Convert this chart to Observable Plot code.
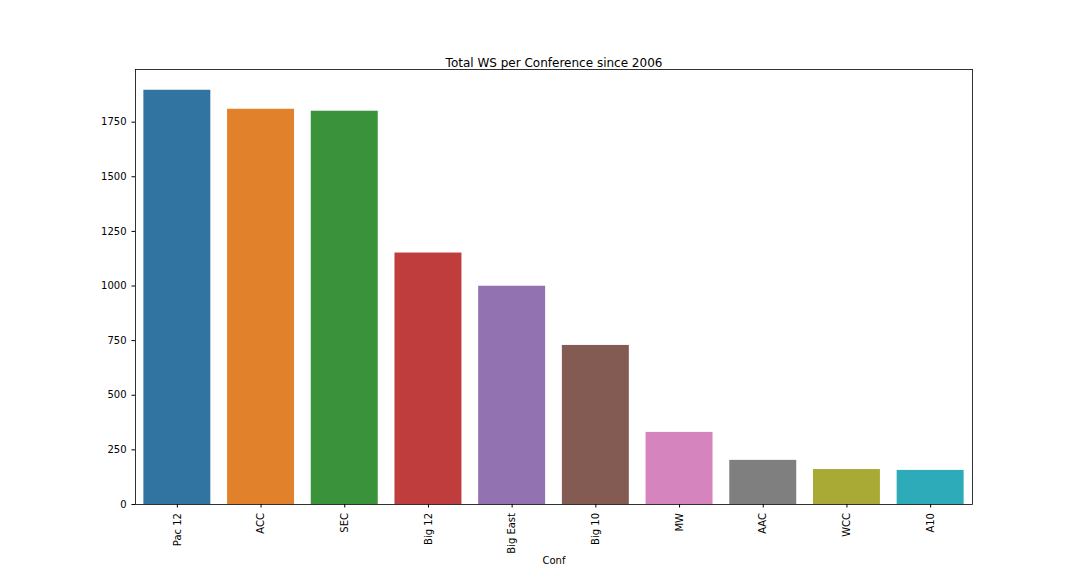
<!DOCTYPE html>
<html>
<head>
<meta charset="utf-8">
<script src="https://cdn.jsdelivr.net/npm/d3@7"></script>
<script src="https://cdn.jsdelivr.net/npm/@observablehq/plot@0.6"></script>
<style>
html, body { margin: 0; padding: 0; background: #fff; }
</style>
</head>
<body>
<div id="chart"></div>
<script>
const conferences = ["Pac 12", "ACC", "SEC", "Big 12", "Big East", "Big 10", "MW", "AAC", "WCC", "A10"];
const totalWS = [1896, 1809, 1800, 1151, 999, 728, 330, 202, 160, 156];
const colors = ["#3274a1", "#e1812c", "#3a923a", "#c03d3e", "#9372b2", "#845b53", "#d684bd", "#7f7f7f", "#a9aa35", "#2eabb8"];
const yTicks = [0, 250, 500, 750, 1000, 1250, 1500, 1750];
const title = "Total WS per Conference since 2006";

const data = conferences.map((c, i) => ({conf: c, ws: totalWS[i]}));

const chart = Plot.plot({
  width: 1080,
  height: 576,
  marginLeft: 135,
  marginRight: 108,
  marginTop: 69,
  marginBottom: 72,
  style: {fontFamily: "DejaVu Sans", fontSize: "10px", color: "#000", background: "#fff"},
  x: {
    domain: conferences,
    paddingInner: 0.2,
    paddingOuter: 0.1,
    round: false,
    label: "Conf"
  },
  y: {
    domain: [0, 1991],
    ticks: yTicks,
    label: null
  },
  color: {domain: conferences, range: colors},
  marks: [
    Plot.barY(data, {x: "conf", y: "ws", fill: "conf"}),
    Plot.frame({stroke: "#000", strokeWidth: 0.8}),
    Plot.axisX({tickRotate: -90, tickSize: 3.5, tickPadding: 5, label: "Conf", labelAnchor: "center", labelOffset: 59, labelArrow: "none", fontSize: 10}),
    Plot.axisY({ticks: yTicks, tickSize: 3.5, tickFormat: d => String(d), label: null, fontSize: 10}),
    Plot.text([title], {frameAnchor: "top", dy: -11, fontSize: 12, fill: "#000"})
  ]
});
document.getElementById("chart").appendChild(chart);
</script>
</body>
</html>
